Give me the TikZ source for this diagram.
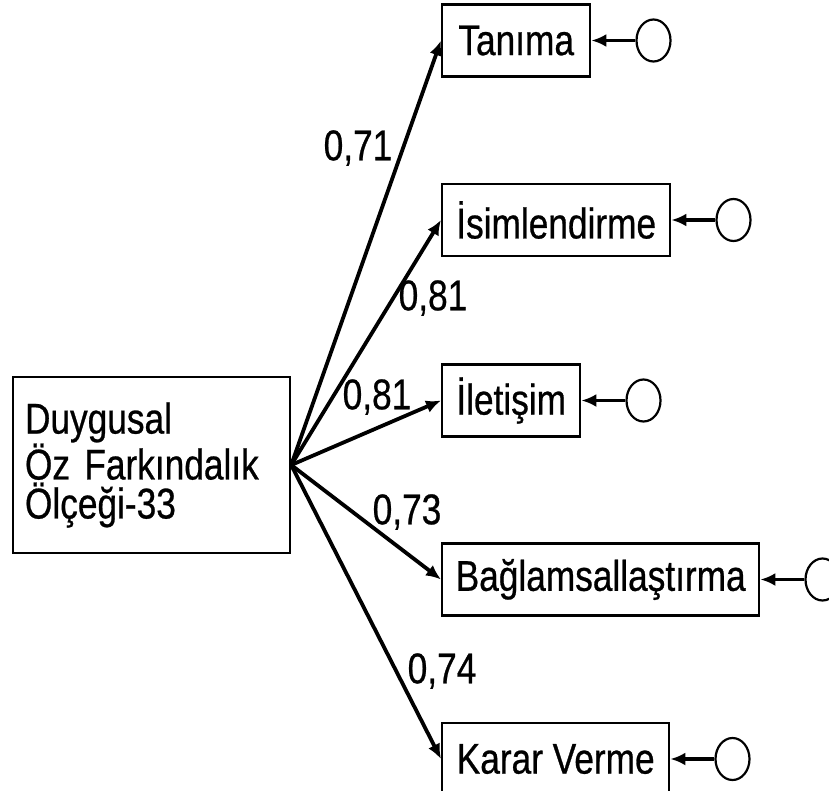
\documentclass[tikz,border=0pt]{standalone}
\usepackage{fontspec}
\setmainfont{Liberation Sans}[FakeStretch=0.82,FakeBold=0.6]
\usetikzlibrary{positioning,shapes.geometric,arrows.meta}

\tikzset{
  obs/.style={draw, line width=2.4pt, minimum height=72pt, inner xsep=0pt, anchor=west},
  err/.style={draw, ellipse, line width=2.2pt, minimum width=34pt, minimum height=42pt, inner sep=0pt},
  loading/.style={line width=3.8pt, -{Latex[length=15pt,width=13pt]}},
  coef/.style={inner sep=0pt}
}

\begin{document}
\begin{tikzpicture}[x=1pt,y=-1pt,font=\fontsize{43}{39}\selectfont]
\useasboundingbox (0,0) rectangle (829,790);
\node(F) [draw, line width=2.4pt, minimum width=277pt, minimum height=176pt, text width=253pt, align=left] at (151.5,465) {Duygusal\\Öz Farkındalık\\Ölçeği-33};

\node(V1) [obs, minimum width=148pt] at (441,40.5)  {Tanıma};
\node(V2) [obs, minimum width=228pt] at (441,220)   {İsimlendirme};
\node(V3) [obs, minimum width=138pt] at (441,400.5) {İletişim};
\node(V4) [obs, minimum width=317pt] at (441,579.5) {Bağlamsallaştırma};
\node(V5) [obs, minimum width=227pt] at (441,759)   {Karar Verme};

\node(E1) [err, right=44pt of V1] {};
\node(E2) [err, right=44pt of V2] {};
\node(E3) [err, right=44pt of V3] {};
\node(E4) [err, right=44pt of V4] {};
\node(E5) [err, right=44pt of V5] {};

\node(L1) [coef] at (358,148) {0,71};
\node(L2) [coef] at (433,298) {0,81};
\node(L3) [coef] at (377,397) {0,81};
\node(L4) [coef] at (407,512) {0,73};
\node(L5) [coef] at (442,671) {0,74};

\draw[loading] (F.east) to (V1.west);
\draw[loading] (F.east) to (V2.west);
\draw[loading] (F.east) to (V3.west);
\draw[loading] (F.east) to (V4.west);
\draw[loading] (F.east) to (V5.west);

\draw[loading] (E1) to (V1);
\draw[loading] (E2) to (V2);
\draw[loading] (E3) to (V3);
\draw[loading] (E4) to (V4);
\draw[loading] (E5) to (V5);
\end{tikzpicture}
\end{document}
